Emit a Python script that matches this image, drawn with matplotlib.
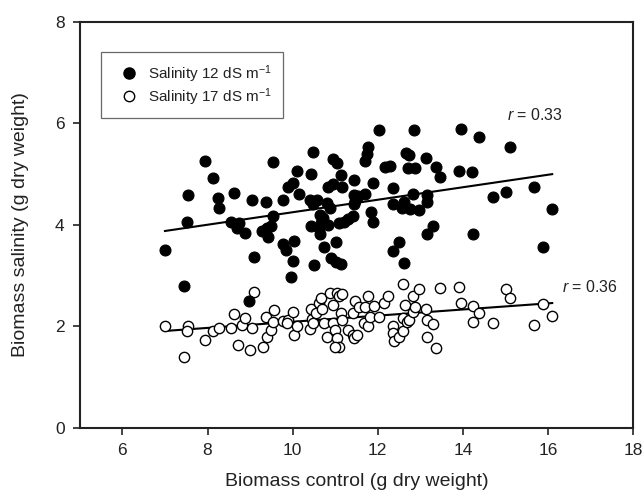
import matplotlib
matplotlib.use("Agg")
import matplotlib.pyplot as plt
from matplotlib.lines import Line2D

plt.rcParams['font.family'] = ['Liberation Sans', 'DejaVu Sans']
plt.rcParams['mathtext.fontset'] = 'custom'
plt.rcParams['mathtext.rm'] = 'Liberation Sans'
plt.rcParams['mathtext.it'] = 'Liberation Sans:italic'

# Salinity 12 dS/m: (biomass control, biomass salinity)
sal12_x = [7.93, 9.53, 10.47, 10.94, 11.04, 8.13, 10.11, 10.44, 11.14, 11.45,
           10.02, 9.89, 10.94, 10.84, 11.17, 7.53, 8.62, 8.25, 8.28, 9.05,
           9.37, 9.78, 10.14, 10.40, 10.57, 10.49, 10.80, 10.88, 11.45, 11.47,
           11.45, 9.55, 7.52, 8.55, 8.75, 8.70, 8.87, 9.27, 9.39, 9.49,
           9.41, 10.65, 10.72, 10.66, 10.84, 10.61, 10.43, 11.08, 11.20, 11.31,
           11.43, 10.65, 7.01, 10.04, 9.78, 9.84, 11.02, 10.73, 9.10, 10.91,
           11.01, 11.13, 10.02, 10.51, 9.97, 7.45, 8.98, 12.02, 12.85, 13.96,
           14.37, 15.12, 11.78, 11.74, 11.71, 12.66, 12.73, 13.14, 12.16, 12.28,
           12.70, 12.88, 13.38, 13.46, 13.92, 14.22, 11.90, 12.36, 11.71, 11.53,
           12.84, 13.15, 13.15, 12.35, 12.61, 12.57, 12.76, 12.96, 14.72, 15.01,
           15.67, 16.10, 11.85, 11.88, 13.31, 13.16, 14.23, 12.51, 12.37, 12.61,
           15.88]
sal12_y = [5.26, 5.23, 5.43, 5.29, 5.22, 4.92, 5.06, 5.01, 4.99, 4.89,
           4.82, 4.74, 4.80, 4.74, 4.74, 4.58, 4.62, 4.53, 4.33, 4.49,
           4.45, 4.49, 4.60, 4.49, 4.49, 4.41, 4.43, 4.33, 4.59, 4.47,
           4.41, 4.18, 4.05, 4.05, 4.03, 3.93, 3.84, 3.87, 3.93, 3.98,
           3.77, 4.20, 4.13, 4.03, 4.00, 3.93, 3.97, 4.03, 4.05, 4.12,
           4.18, 3.82, 3.51, 3.68, 3.62, 3.51, 3.66, 3.56, 3.37, 3.34,
           3.26, 3.22, 3.28, 3.20, 2.97, 2.80, 2.50, 5.87, 5.87, 5.89,
           5.73, 5.53, 5.53, 5.39, 5.25, 5.41, 5.38, 5.31, 5.15, 5.17,
           5.13, 5.12, 5.14, 4.94, 5.06, 5.04, 4.82, 4.72, 4.60, 4.56,
           4.61, 4.59, 4.46, 4.41, 4.46, 4.33, 4.32, 4.30, 4.54, 4.64,
           4.74, 4.31, 4.25, 4.05, 3.98, 3.82, 3.83, 3.67, 3.49, 3.25,
           3.57]

# Salinity 17 dS/m
sal17_x = [7.00, 7.53, 7.51, 7.45, 7.94, 8.12, 8.27, 8.55, 8.62, 8.71,
           8.80, 8.88, 9.00, 9.05, 9.10, 9.31, 9.37, 9.39, 9.49, 9.55,
           9.56, 9.78, 9.88, 9.86, 10.02, 10.04, 10.10, 10.40, 10.45, 10.44,
           10.49, 10.55, 10.61, 10.69, 10.66, 10.73, 10.80, 10.87, 10.94, 11.04,
           11.08, 11.17, 10.94, 11.00, 11.04, 11.08, 11.00, 11.13, 11.16, 11.31,
           11.43, 11.45, 11.51, 11.43, 11.47, 11.55, 11.67, 11.71, 11.76, 11.78,
           11.82, 11.92, 12.02, 12.14, 12.25, 12.36, 12.37, 12.39, 12.49, 12.59,
           12.59, 12.59, 12.65, 12.69, 12.73, 12.84, 12.88, 12.84, 12.96, 13.14,
           13.15, 13.15, 13.31, 13.38, 13.46, 13.92, 13.96, 14.24, 14.37, 14.24,
           14.72, 15.02, 15.12, 15.67, 15.88, 16.10]
sal17_y = [2.01, 2.01, 1.90, 1.39, 1.73, 1.90, 1.96, 1.96, 2.24, 1.64,
           2.03, 2.16, 1.54, 1.96, 2.67, 1.59, 2.19, 1.80, 1.93, 2.08,
           2.33, 2.11, 2.13, 2.06, 2.29, 1.83, 2.00, 1.94, 2.14, 2.34,
           2.06, 2.26, 2.47, 2.34, 2.56, 2.06, 1.80, 2.65, 2.42, 2.65,
           2.59, 2.64, 2.06, 1.93, 1.77, 1.59, 1.60, 2.26, 2.13, 1.93,
           1.83, 1.77, 1.83, 2.27, 2.51, 2.39, 2.06, 2.39, 2.00, 2.59,
           2.19, 2.40, 2.19, 2.46, 2.59, 2.00, 1.87, 1.72, 1.80, 1.90,
           2.84, 2.16, 2.42, 2.09, 2.13, 2.29, 2.39, 2.59, 2.73, 2.34,
           2.13, 1.80, 2.05, 1.57, 2.75, 2.78, 2.46, 2.40, 2.26, 2.09,
           2.06, 2.73, 2.56, 2.03, 2.44, 2.21]

# Fitted regression lines (end points)
fit_x = [7.0, 16.1]
fit12_y = [3.88, 5.00]
fit17_y = [1.91, 2.46]

r12_label = "0.33"
r17_label = "0.36"

fig = plt.figure(figsize=(6.44, 4.97), dpi=100)
ax = fig.add_axes([0.124, 0.139, 0.859, 0.817])

ax.plot(fit_x, fit12_y, color='black', lw=1.5, zorder=1)
ax.plot(fit_x, fit17_y, color='black', lw=1.5, zorder=1)
ax.scatter(sal12_x, sal12_y, s=62, facecolor='black', edgecolor='black',
           linewidths=0.8, zorder=3)
ax.scatter(sal17_x, sal17_y, s=55, facecolor='white', edgecolor='black',
           linewidths=1.0, zorder=2)

ax.set_xlim(5, 18)
ax.set_ylim(0, 8)
ax.set_xticks([6, 8, 10, 12, 14, 16, 18])
ax.set_yticks([0, 2, 4, 6, 8])
ax.tick_params(direction='out', length=5, width=1.2, labelsize=12.5,
               colors='#222222', pad=6)
for sp in ax.spines.values():
    sp.set_linewidth(1.5)
    sp.set_color('#222222')

ax.set_xlabel("Biomass control (g dry weight)", fontsize=14, color='#222222',
              labelpad=11)
ax.set_ylabel("Biomass salinity (g dry weight)", fontsize=14, color='#222222',
              labelpad=19)

ax.text(15.04, 6.16, r"$\it{r}$ = " + r12_label, fontsize=11.5, va='center',
        color='#222222')
ax.text(16.33, 2.78, r"$\it{r}$ = " + r17_label, fontsize=11.5, va='center',
        color='#222222')

handles = [
    Line2D([], [], ls='none', marker='o', markersize=8, markerfacecolor='black',
           markeredgecolor='black'),
    Line2D([], [], ls='none', marker='o', markersize=7.5, markerfacecolor='white',
           markeredgecolor='black', markeredgewidth=1.0),
]
labels = [r"Salinity 12 dS m$^{-1}$", r"Salinity 17 dS m$^{-1}$"]
leg = ax.legend(handles, labels, loc='upper left', bbox_to_anchor=(0.039, 0.925),
                frameon=True, fancybox=False, fontsize=11, handletextpad=0.15,
                borderpad=0.7, labelspacing=0.1, handlelength=2.2,
                borderaxespad=0)
leg.get_frame().set_edgecolor('#444444')
leg.get_frame().set_linewidth(0.9)
for t in leg.get_texts():
    t.set_color('#222222')

fig.savefig("out.png", dpi=100)
